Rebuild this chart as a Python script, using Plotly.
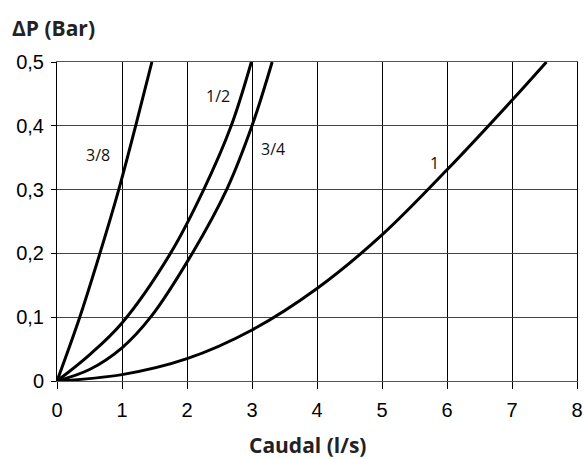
import plotly.graph_objects as go

# Curve data: caudal (l/s) vs ΔP (bar)
x_38 = [0, 0.35, 0.66, 0.95, 1.21, 1.46]
y_38 = [0, 0.1, 0.2, 0.3, 0.4, 0.5]

x_12 = [0, 0.5, 1.0, 1.745, 2.257, 2.68, 2.99]
y_12 = [0, 0.041, 0.091, 0.2, 0.3, 0.4, 0.5]

x_34 = [0, 0.5, 1.0, 1.44, 2.08, 2.61, 3.0, 3.31]
y_34 = [0, 0.018, 0.052, 0.1, 0.2, 0.3, 0.4, 0.5]

x_1 = [0, 1, 2, 3, 4, 5, 6, 7, 7.53]
y_1 = [0, 0.010, 0.035, 0.080, 0.145, 0.229, 0.331, 0.44, 0.5]

series_names = ["3/8", "1/2", "3/4", "1"]
label_x = [0.63, 2.48, 3.32, 5.80]
label_y = [0.354, 0.446, 0.364, 0.341]

x_ticks = [0, 1, 2, 3, 4, 5, 6, 7, 8]
x_ticktext = ["0", "1", "2", "3", "4", "5", "6", "7", "8"]
y_ticks = [0, 0.1, 0.2, 0.3, 0.4, 0.5]
y_ticktext = ["0", "0,1", "0,2", "0,3", "0,4", "0,5"]

fig = go.Figure()
for xs, ys, name in [(x_38, y_38, "3/8"), (x_12, y_12, "1/2"), (x_34, y_34, "3/4"), (x_1, y_1, "1")]:
    fig.add_trace(go.Scatter(x=xs, y=ys, mode="lines", name=name,
                             line=dict(color="black", width=3, shape="spline", smoothing=1.0),
                             showlegend=False, hoverinfo="skip"))

label_font = dict(family="Open Sans, Noto Sans, sans-serif", size=16, color="#111")
for name, lx, ly in zip(series_names, label_x, label_y):
    fig.add_annotation(x=lx, y=ly, text=name, showarrow=False, font=label_font,
                       xanchor="center", yanchor="middle")

fig.add_annotation(xref="paper", yref="paper", x=-0.0877, y=1.1066, text="<b>ΔP (Bar)</b>",
                   showarrow=False, xanchor="left", yanchor="middle", borderpad=0,
                   font=dict(family="Open Sans, Noto Sans, sans-serif", size=21, color="#222"))
fig.add_annotation(xref="paper", yref="paper", x=0.482, y=-0.2006, text="<b>Caudal (l/s)</b>",
                   showarrow=False, xanchor="center", yanchor="middle", borderpad=0,
                   font=dict(family="Open Sans, Noto Sans, sans-serif", size=21, color="#222"))

tick_font = dict(family="Liberation Sans, Arial, sans-serif", size=20, color="black")
fig.update_xaxes(range=[0, 8], tickvals=x_ticks, ticktext=x_ticktext, showgrid=True,
                 gridcolor="black", gridwidth=1, zeroline=False, showline=True, linecolor="#555",
                 linewidth=1, mirror=True, ticks="outside", ticklen=7, tickcolor="black",
                 tickfont=tick_font, ticklabelstandoff=4, fixedrange=True, automargin=False)
fig.update_yaxes(range=[0, 0.5], tickvals=y_ticks, ticktext=y_ticktext, showgrid=True,
                 gridcolor="#444", gridwidth=1, zeroline=False, showline=True, linecolor="black",
                 linewidth=1, mirror=True, ticks="outside", ticklen=5, tickcolor="black",
                 tickfont=tick_font, ticklabelstandoff=3, fixedrange=True, automargin=False)

fig.update_layout(width=585, height=459, margin=dict(l=57, r=8, t=62, b=78, autoexpand=False),
                  plot_bgcolor="white", paper_bgcolor="white")

fig.write_html("out.html", config={"displayModeBar": False},
               post_script="document.body.style.margin='0';document.body.style.overflow='hidden';")
